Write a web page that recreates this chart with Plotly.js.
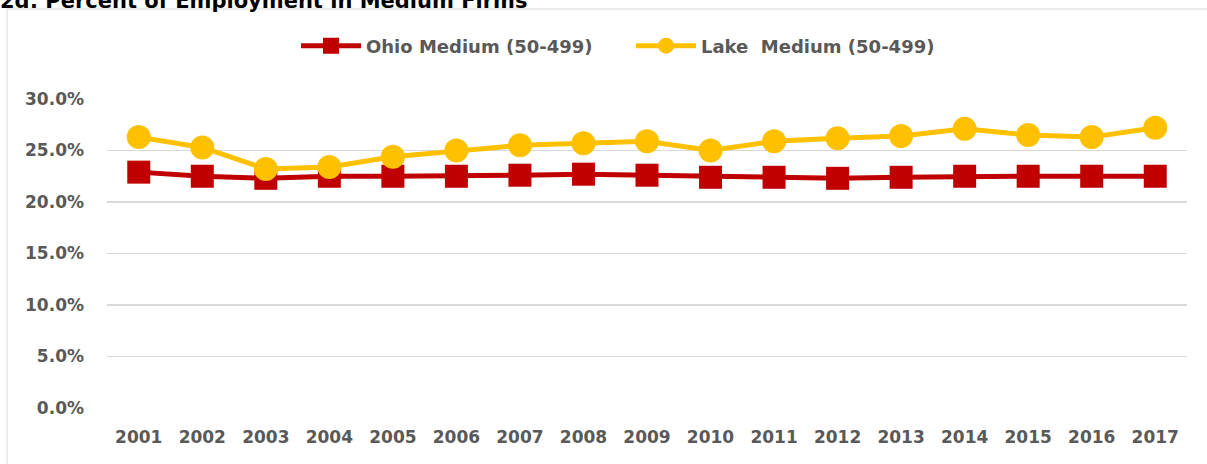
<!DOCTYPE html>
<html>
<head>
<meta charset="utf-8">
<script src="https://cdn.plot.ly/plotly-3.0.1.min.js"></script>
<style>
  html, body { margin: 0; padding: 0; background: #ffffff; }
  #chart { width: 1207px; height: 464px; }
</style>
</head>
<body>
<div id="chart"></div>
<script>
const years = ["2001","2002","2003","2004","2005","2006","2007","2008","2009","2010","2011","2012","2013","2014","2015","2016","2017"];
const ohioMedium = [0.229, 0.225, 0.223, 0.225, 0.225, 0.225, 0.226, 0.227, 0.226, 0.224, 0.224, 0.223, 0.224, 0.225, 0.225, 0.225, 0.225];
const lakeMedium = [0.263, 0.253, 0.232, 0.234, 0.244, 0.250, 0.255, 0.257, 0.259, 0.250, 0.259, 0.262, 0.264, 0.271, 0.265, 0.263, 0.272];
const seriesNames = ["Ohio Medium (50-499)", "Lake\u00a0 Medium (50-499)"];
const chartTitle = "2d: Percent of Employment in Medium Firms";

const FONT = "DejaVu Sans, sans-serif";
const GREY = "#595959";

const traces = [
  {
    x: years, y: ohioMedium, name: seriesNames[0], type: "scatter", mode: "lines+markers",
    line: { color: "#C00000", width: 5 },
    marker: { symbol: "square", size: 23, color: "#C00000" },
    hoverinfo: "skip"
  },
  {
    x: years, y: lakeMedium, name: seriesNames[1], type: "scatter", mode: "lines+markers",
    line: { color: "#FFC000", width: 5 },
    marker: { symbol: "circle", size: 24, color: "#FFC000" },
    hoverinfo: "skip"
  }
];

const layout = {
  width: 1207, height: 464,
  margin: { l: 107, r: 20, t: 99, b: 56 },
  paper_bgcolor: "#ffffff", plot_bgcolor: "#ffffff",
  font: { family: FONT, size: 17, color: GREY },
  title: {
    text: "<b>" + chartTitle + "</b>",
    font: { family: FONT, size: 21, color: "#000000" },
    x: 0, xref: "container", xanchor: "left",
    y: 1 - 8 / 464, yref: "container", yanchor: "bottom", pad: { l: 0, t: 0, b: 0 }
  },
  showlegend: true,
  legend: {
    orientation: "h", x: 0.175, xanchor: "left", y: 1.1715, yanchor: "middle",
    font: { family: FONT, size: 18, color: GREY, weight: "bold" },
    itemwidth: 60, entrywidth: 260, entrywidthmode: "pixels"
  },
  xaxis: {
    type: "category", range: [-0.5, 16.5], showgrid: false, zeroline: false, showline: false, ticks: "",
    tickfont: { family: FONT, size: 17, color: GREY, weight: "bold" },
    ticklabelstandoff: 17, fixedrange: true
  },
  yaxis: {
    range: [0, 0.30], dtick: 0.05, tickformat: ".1%",
    showgrid: true, gridcolor: "#d9d9d9", gridwidth: 1.5,
    zeroline: false, showline: false, ticks: "",
    tickfont: { family: FONT, size: 17, color: GREY, weight: "bold" },
    ticklabelstandoff: 22, fixedrange: true
  },
  shapes: [
    { type: "rect", xref: "paper", yref: "paper",
      x0: (7 - 107) / 1080, x1: 1.05, y0: -0.3, y1: (408 - 9) / 309,
      line: { color: "#d9d9d9", width: 1 }, fillcolor: "rgba(0,0,0,0)", layer: "below" }
  ]
};

Plotly.newPlot("chart", traces, layout, { displayModeBar: false, staticPlot: true });
</script>
</body>
</html>
